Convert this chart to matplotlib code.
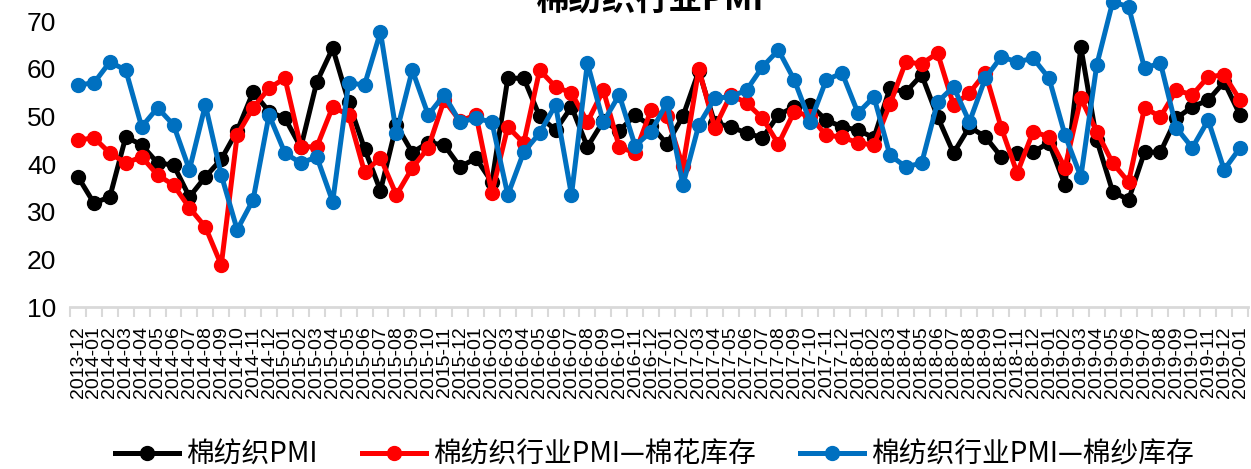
import numpy as np
import pandas as pd
import matplotlib.pyplot as plt

plt.rcParams['font.family'] = ['Noto Sans CJK SC', 'DejaVu Sans']

# 月份 2013-12 ~ 2020-01
months = pd.period_range('2013-12', '2020-01', freq='M').strftime('%Y-%m').tolist()

pmi = [37.3, 31.8, 33.1, 45.7, 44.0, 40.2, 39.8, 33.1, 37.3, 41.0,
       47.0, 55.1, 51.0, 49.6, 43.5, 57.2, 64.3, 53.0, 43.2, 34.4,
       48.2, 42.4, 44.5, 44.0, 39.4, 41.2, 36.2, 58.0, 58.0, 50.0,
       47.1, 52.0, 43.6, 49.0, 47.0, 50.2, 48.0, 44.2, 50.0, 59.5,
       48.6, 47.8, 46.5, 45.5, 50.3, 52.0, 52.4, 49.2, 47.8, 47.1,
       45.5, 55.9, 55.1, 58.7, 49.9, 42.3, 47.8, 45.7, 41.5, 42.3,
       42.5, 44.5, 35.6, 64.5, 45.0, 34.2, 32.5, 42.5, 42.5, 49.6,
       52.0, 53.4, 57.2, 50.3]

pmi_cotton = [45.0, 45.5, 42.3, 40.2, 41.5, 37.7, 35.6, 30.8, 26.8, 18.8,
              46.1, 51.8, 55.9, 58.0, 43.6, 43.6, 52.0, 50.3, 38.3, 41.3,
              33.5, 39.2, 43.4, 53.4, 49.0, 50.3, 33.9, 47.8, 44.4, 59.7,
              56.2, 54.9, 48.8, 55.5, 43.6, 42.3, 51.3, 50.0, 39.5, 60.0,
              47.6, 54.5, 52.8, 49.6, 44.2, 51.0, 50.0, 46.0, 45.7, 44.4,
              44.0, 52.5, 61.4, 61.0, 63.3, 52.4, 54.9, 59.1, 47.6, 38.1,
              46.8, 45.7, 39.2, 53.8, 46.8, 40.2, 36.2, 51.8, 49.9, 55.5,
              54.5, 58.3, 58.7, 53.4]

pmi_yarn = [56.6, 57.0, 61.4, 59.7, 47.8, 51.8, 48.2, 38.8, 52.4, 37.7,
            26.2, 32.5, 50.3, 42.3, 40.2, 41.5, 32.1, 57.0, 56.6, 67.7,
            46.5, 59.7, 50.3, 54.5, 48.8, 49.6, 48.8, 33.5, 42.5, 46.5,
            52.4, 33.5, 61.2, 48.8, 54.5, 43.8, 46.8, 52.8, 35.6, 48.2,
            53.8, 54.1, 55.5, 60.4, 63.9, 57.6, 48.8, 57.6, 59.1, 50.7,
            54.1, 41.9, 39.4, 40.2, 53.0, 56.2, 48.8, 58.0, 62.5, 61.4,
            62.2, 58.0, 46.1, 37.3, 60.8, 74.0, 73.0, 60.1, 61.2, 47.6,
            43.4, 49.2, 38.8, 43.4]

names = ['棉纺织PMI', '棉纺织行业PMI—棉花库存', '棉纺织行业PMI—棉纱库存']
colors = ['#000000', '#FF0000', '#0070C0']

fig = plt.figure(figsize=(12.51, 4.69), dpi=100)
ax = fig.add_axes([0.056, 0.3454, 0.9416, 0.6098])

x = np.arange(len(months))
for vals, c, name in zip([pmi, pmi_cotton, pmi_yarn], colors, names):
    ax.plot(x, vals, color=c, lw=3.6, marker='o', ms=10, label=name, clip_on=False)

ax.set_xlim(-0.5, len(months) - 0.5)
ax.set_ylim(10, 70)
ax.set_yticks(range(10, 71, 10))

ax.set_xticks(x)
ax.set_xticklabels(months, rotation=90, fontsize=14, family='Liberation Sans')
ax.set_xticks(np.arange(-0.5, len(months), 1), minor=True)
ax.tick_params(axis='x', which='major', length=0, pad=14)
ax.tick_params(axis='x', which='minor', length=7, width=1.5, color='#D9D9D9')
ax.tick_params(axis='y', length=0, pad=10)
for lab in ax.get_yticklabels():
    lab.set_family('Liberation Sans')
    lab.set_fontsize(19)

for s in ['top', 'right', 'left']:
    ax.spines[s].set_visible(False)
ax.spines['bottom'].set_color('#D9D9D9')
ax.spines['bottom'].set_linewidth(2)

# 标题（顶部被截掉一半）
fig.text(0.52, 1 - 11 / 469, '棉纺织行业PMI', ha='center', va='baseline',
         fontsize=24, fontweight='bold')

fig.legend(loc='center', bbox_to_anchor=(0.523, 0.03), ncol=3, frameon=False,
           fontsize=20, handlelength=2.3, handletextpad=0.25, columnspacing=1.6)

fig.savefig('out.png', dpi=100)
